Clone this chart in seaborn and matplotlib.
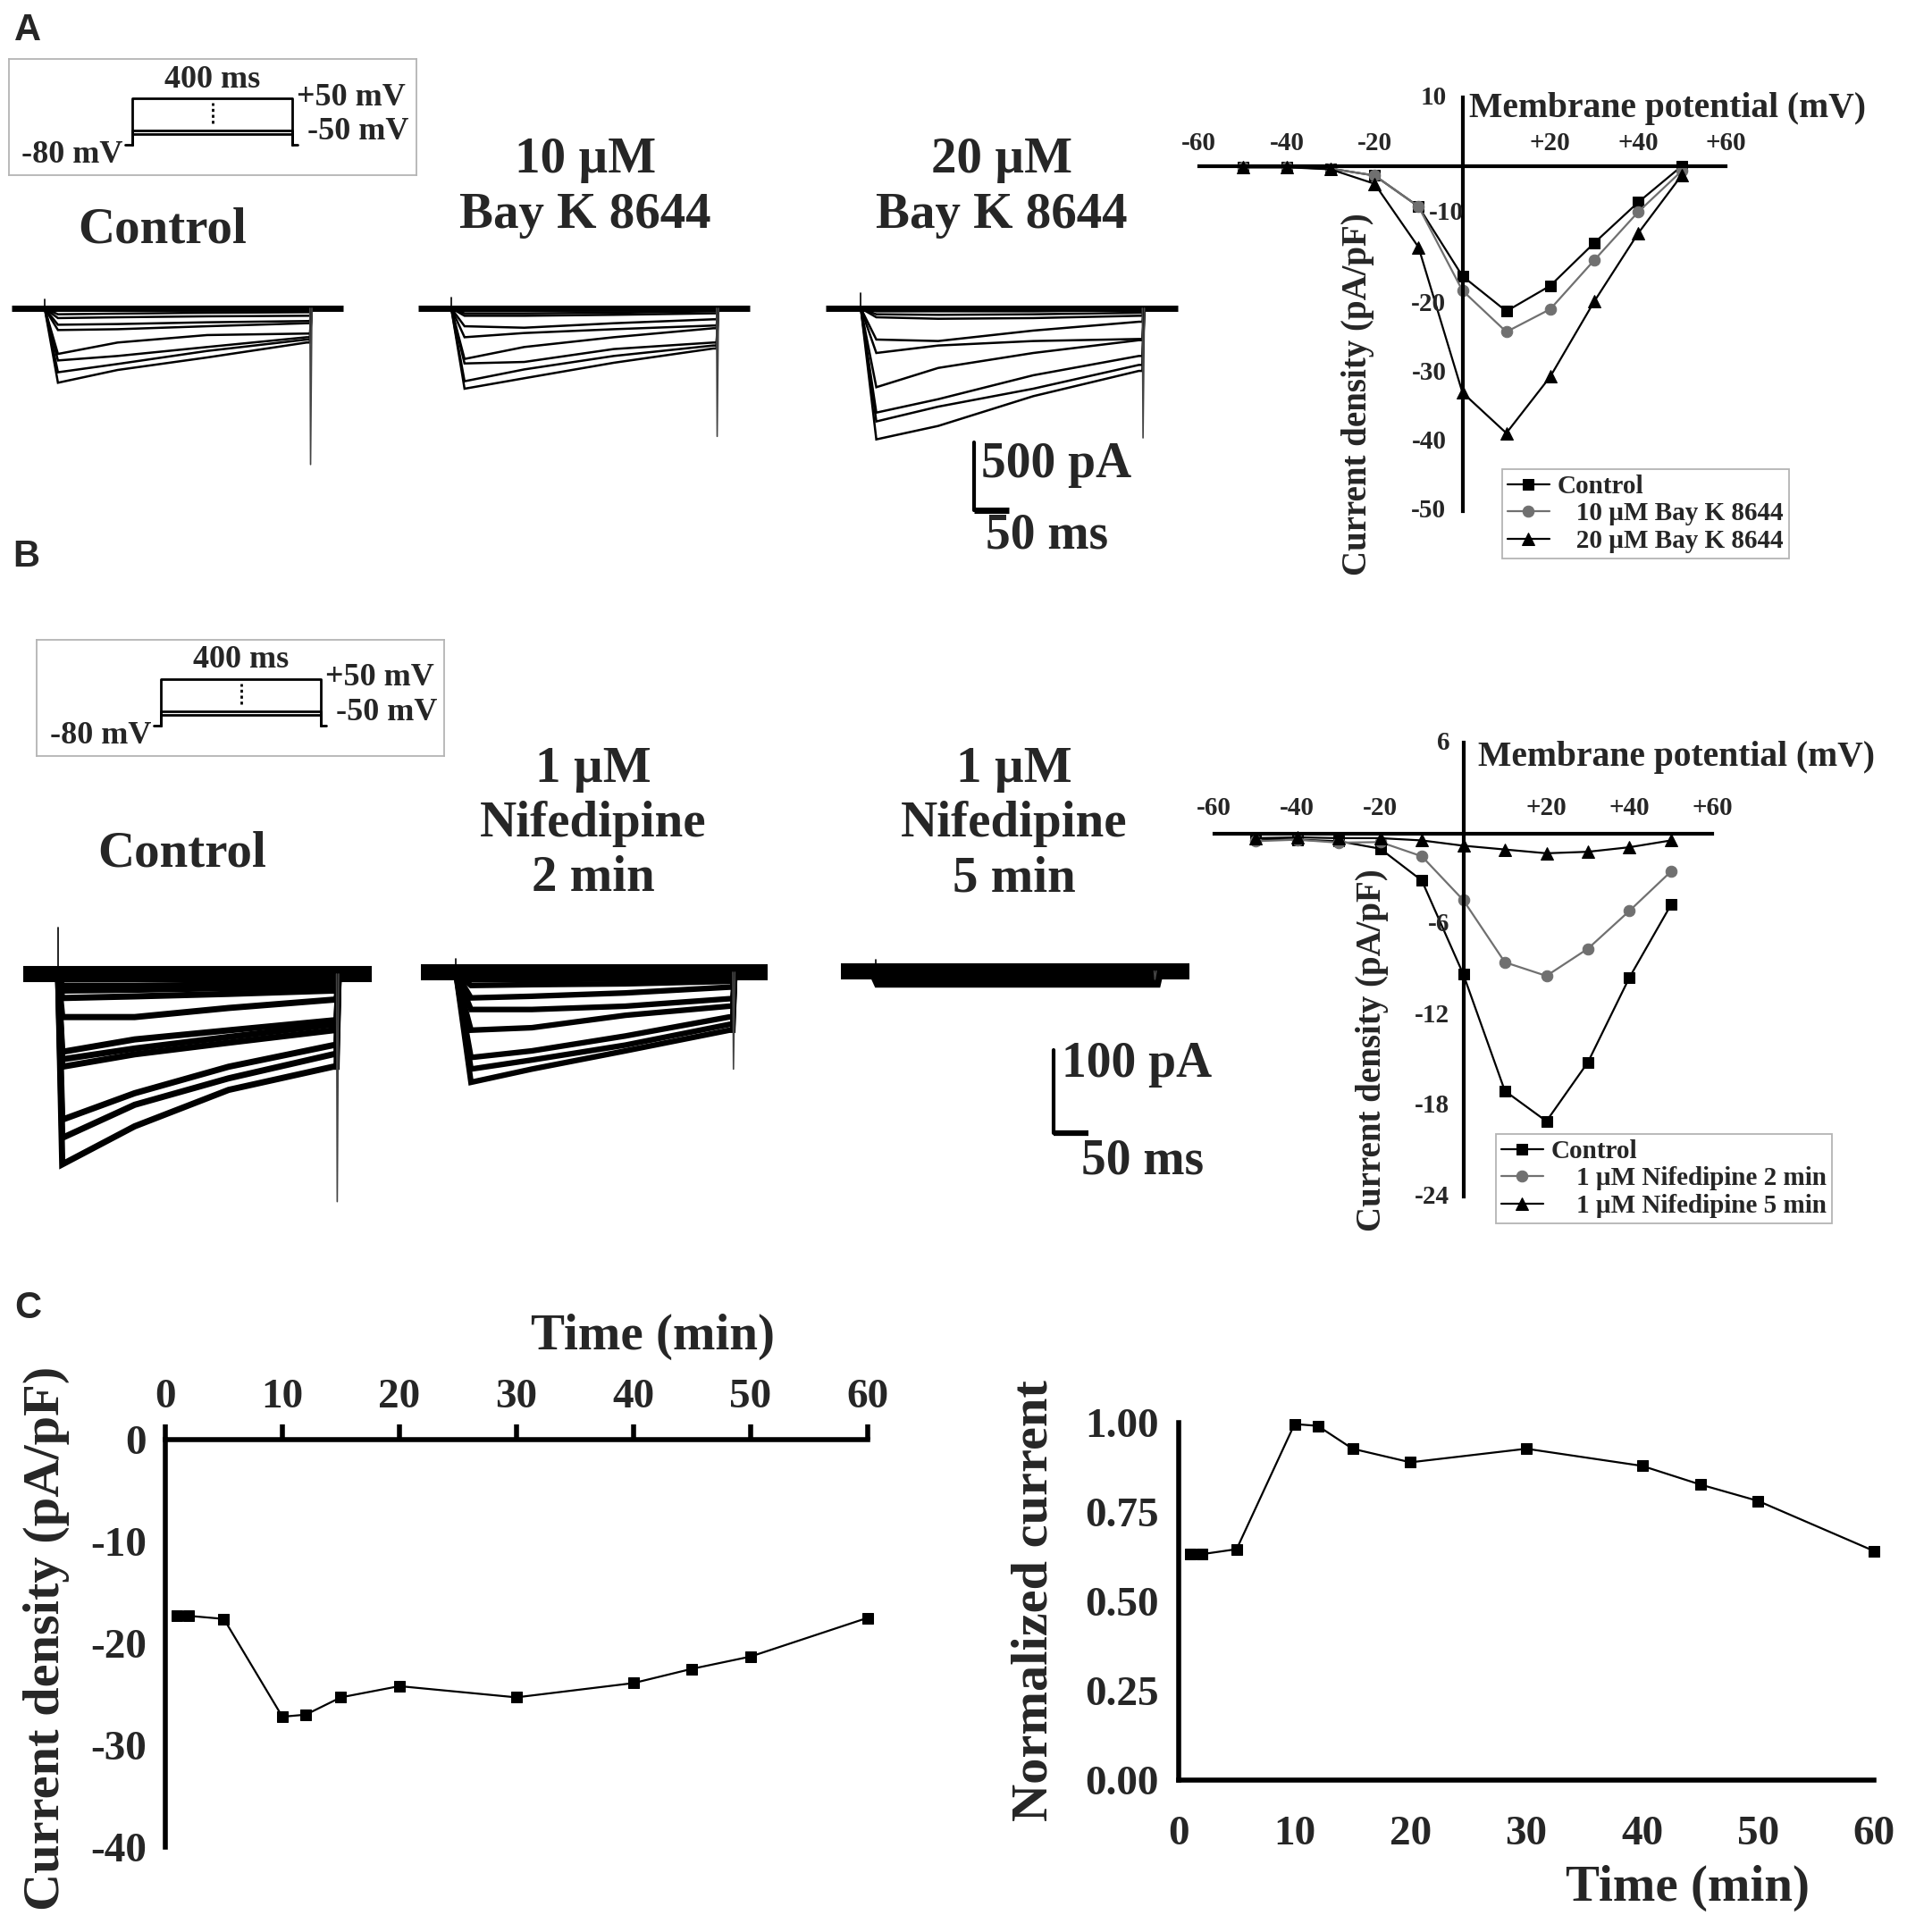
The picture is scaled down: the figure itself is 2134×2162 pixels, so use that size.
import numpy as np
import matplotlib
matplotlib.use('Agg')
import matplotlib.pyplot as plt
import seaborn as sns

sns.set_style('white')
plt.rcParams['font.family'] = ['Liberation Serif', 'DejaVu Serif']
plt.rcParams['font.weight'] = 'bold'
plt.rcParams['axes.unicode_minus'] = False

# ---- data ----
iv_voltage = [-50, -40, -30, -20, -10, 0, 10, 20, 30, 40, 50]
iv_a_control = [-0.1, -0.1, -0.3, -1.3, -5.8, -15.9, -21.0, -17.3, -11.1, -5.2, 0.1]
iv_a_bay10 = [-0.1, -0.1, -0.3, -1.3, -5.8, -18.0, -24.0, -20.7, -13.6, -6.6, -0.6]
iv_a_bay20 = [-0.1, -0.1, -0.4, -2.5, -11.7, -32.8, -38.7, -30.5, -19.6, -9.7, -1.2]
iv_b_control = [-0.34, -0.4, -0.5, -1.0, -3.1, -9.3, -17.0, -19.0, -15.1, -9.5, -4.7]
iv_b_nif2 = [-0.5, -0.4, -0.6, -0.56, -1.5, -4.4, -8.5, -9.4, -7.6, -5.1, -2.5]
iv_b_nif5 = [-0.3, -0.25, -0.3, -0.3, -0.45, -0.8, -1.05, -1.3, -1.2, -0.9, -0.45]
iv_xticks = [-60, -40, -20, 20, 40, 60]
iv_xticklabels = ['-60', '-40', '-20', '+20', '+40', '+60']
iv_a_yticks = [10, -10, -20, -30, -40, -50]
iv_b_yticks = [6, -6, -12, -18, -24]

time_min = [1, 2, 5, 10, 12, 15, 20, 30, 40, 45, 50, 60]
density_c = [-17.3, -17.3, -17.6, -27.2, -27.0, -25.3, -24.2, -25.3, -23.9, -22.5, -21.3, -17.5]
normalized_c = [0.632, 0.632, 0.646, 0.996, 0.991, 0.927, 0.889, 0.927, 0.879, 0.827, 0.781, 0.641]

# current traces (pA) at key times after pulse onset (ms)
trace_t_a = [20, 110, 245, 395]
trace_t_a20 = [22, 110, 245, 395]
trace_t_b = [6, 110, 245, 395]
trace_t_b2 = [22, 110, 245, 395]
sweeps_a_control = [[-15, -15, -11, -11], [-44, -39, -33, -29], [-72, -66, -59, -55],
                    [-121, -116, -103, -94], [-160, -154, -132, -110], [-336, -252, -197, -186],
                    [-384, -351, -285, -213], [-471, -410, -314, -230], [-548, -454, -362, -252]]
sweeps_a_bay10 = [[-15, -15, -11, -11], [-37, -37, -33, -22], [-55, -55, -48, -37],
                  [-132, -143, -110, -81], [-213, -182, -154, -127], [-373, -285, -213, -147],
                  [-406, -395, -300, -252], [-537, -450, -351, -274], [-592, -515, -401, -296]]
sweeps_a_bay20 = [[-22, -22, -22, -15], [-44, -48, -44, -33], [-66, -77, -72, -55],
                  [-230, -241, -164, -99], [-329, -274, -241, -226], [-581, -439, -329, -235],
                  [-768, -669, -493, -351], [-833, -724, -592, -417], [-965, -866, -647, -461]]
sweeps_b_control = [[-14, -14, -13, -12], [-20, -19, -17, -15], [-29, -27, -24, -20],
                    [-52, -52, -41, -31], [-94, -79, -68, -56], [-103, -90, -76, -61],
                    [-112, -97, -83, -68], [-176, -144, -112, -86], [-198, -158, -126, -97],
                    [-230, -184, -140, -112]]
sweeps_b_nif2 = [[-9, -9, -8, -7], [-16, -15, -14, -11], [-31, -29, -25, -18],
                 [-45, -45, -41, -32], [-70, -67, -52, -41], [-103, -95, -77, -54],
                 [-117, -106, -88, -63], [-133, -117, -95, -70]]
sweeps_b_nif5 = [[-3, -3, -3, -3], [-7, -7, -7, -7], [-11, -11, -11, -11]]
tail_pa = {'a_control': -1150, 'a_bay10': -943, 'a_bay20': -954,
           'b_control': -275, 'b_nif2': -117, 'b_nif5': -10}
onset_pa = {'a_control': 66, 'a_bay10': 81, 'a_bay20': 110,
            'b_control': 56, 'b_nif2': 16, 'b_nif5': 14}

protocol_hold = -80
protocol_steps = [-50, -40, 50]
protocol_ms = 400
scale_a = (50, 500)   # ms, pA
scale_b = (50, 100)

# ---- layout helpers (pixel coordinates of the 2134 x 2162 image) ----
W, H = 2134, 2162
fig = plt.figure(figsize=(W / 100, H / 100), dpi=100)
fig.patch.set_facecolor('white')


def px_axes(x0, y0, x1, y1):
    ax = fig.add_axes([x0 / W, 1 - y1 / H, (x1 - x0) / W, (y1 - y0) / H])
    ax.set_facecolor('none')
    return ax


def ftext(x, y, s, size, ha='center', va='baseline', **kw):
    return fig.text(x / W, 1 - y / H, s, fontsize=size, ha=ha, va=va, fontweight='bold', **kw)


def protocol(box, t0_px, v0_px):
    x0, y0, x1, y1 = box
    pxms, pxmv = 0.4475, 0.4
    ax = px_axes(*box)
    ax.set_xlim((x0 - t0_px) / pxms, (x1 - t0_px) / pxms)
    ax.set_ylim(protocol_hold - (y1 - v0_px) / pxmv, protocol_hold + (v0_px - y0) / pxmv)
    ax.set_xticks([])
    ax.set_yticks([])
    for sp in ax.spines.values():
        sp.set_color('#b4b4b4')
        sp.set_linewidth(1.3)
    ax.plot([-18, 0], [protocol_hold] * 2, color='k', lw=2)
    ax.plot([protocol_ms, protocol_ms + 14], [protocol_hold] * 2, color='k', lw=2)
    for v in protocol_steps:
        ax.plot([0, 0, protocol_ms, protocol_ms], [protocol_hold, v, v, protocol_hold], color='k', lw=2)
    ax.plot([200, 200], [-20, 37], color='k', lw=2, ls=(0, (1.2, 1.2)))
    ax.text(200, 102, '400 ms', ha='center', va='center', fontsize=26)
    ax.text(411, 52, '+50 mV', ha='left', va='center', fontsize=26)
    ax.text(437, -44, '-50 mV', ha='left', va='center', fontsize=26)
    ax.text(-24, -110, '-80 mV', ha='right', va='center', fontsize=26)


def trace_panel(box, start_px, base_px, pxms, pxpa, t_keys, sweeps, key, base_lw, sweep_lw):
    x0, y0, x1, y1 = box
    ax = px_axes(*box)
    ax.set_xlim((x0 - start_px) / pxms, (x1 - start_px) / pxms)
    ax.set_ylim(-(y1 - base_px) / pxpa, (base_px - y0) / pxpa)
    ax.axis('off')
    ax.plot([-50, 450], [0, 0], color='k', lw=base_lw, solid_capstyle='butt')
    for s in sweeps:
        ax.plot([0] + t_keys + [400, 403], [0] + s + [s[-1], 0], color='k', lw=sweep_lw,
                solid_capstyle='butt', solid_joinstyle='miter')
    ax.plot([0, 0], [0, onset_pa[key]], color='k', lw=1.2)
    ax.plot([400, 401, 403], [0, tail_pa[key], 0], color='#444444', lw=1.2)
    return ax


# ---- panel A: protocol + traces ----
protocol((10, 66, 466, 196), 148, 162)
trace_panel((0, 290, 430, 630), 50, 345, 0.742, 0.152, trace_t_a, sweeps_a_control, 'a_control', 5, 1.8)
trace_panel((440, 290, 880, 630), 505, 345, 0.742, 0.152, trace_t_a, sweeps_a_bay10, 'a_bay10', 5, 1.8)
ax_a20 = trace_panel((890, 290, 1330, 630), 963.3, 345, 0.7875, 0.152, trace_t_a20, sweeps_a_bay20,
                     'a_bay20', 5, 1.8)
sb_t = (1090 - 963.3) / 0.7875
sb_y = -(571 - 345) / 0.152
ax_a20.plot([sb_t, sb_t], [sb_y, sb_y + scale_a[1]], color='k', lw=3)
ax_a20.plot([sb_t, sb_t + scale_a[0]], [sb_y, sb_y], color='k', lw=5, solid_capstyle='butt')
ftext(1098, 534, '500 pA', 40, ha='left')
ftext(1103, 614, '50 ms', 40, ha='left')

ftext(182, 272, 'Control', 41)
ftext(655, 193, '10 µM', 41)
ftext(655, 255, 'Bay K 8644', 41)
ftext(1121, 193, '20 µM', 41)
ftext(1121, 255, 'Bay K 8644', 41)

# ---- panel B: protocol + traces ----
protocol((41, 716, 497, 846), 180, 811.5)
trace_panel((0, 1020, 440, 1360), 65, 1090, 0.779, 0.926, trace_t_b, sweeps_b_control, 'b_control', 13, 5)
trace_panel((450, 1020, 890, 1360), 510, 1088, 0.775, 0.926, trace_t_b2, sweeps_b_nif2, 'b_nif2', 13, 4.5)
ax_b5 = trace_panel((900, 1020, 1380, 1330), 980, 1086.7, 0.779, 0.926, trace_t_b, sweeps_b_nif5,
                    'b_nif5', 13, 12)
sb_t = (1179 - 980) / 0.779
sb_y = -(1268 - 1086.7) / 0.926
ax_b5.plot([sb_t, sb_t], [sb_y, sb_y + scale_b[1]], color='k', lw=3)
ax_b5.plot([sb_t, sb_t + scale_b[0]], [sb_y, sb_y], color='k', lw=4.5, solid_capstyle='butt')
ftext(1188, 1205, '100 pA', 40, ha='left')
ftext(1210, 1314, '50 ms', 40, ha='left')

ftext(204, 969, 'Control', 41)
ftext(664, 875, '1 µM', 41)
ftext(664, 936, 'Nifedipine', 41)
ftext(664, 997, '2 min', 41)
ftext(1135, 875, '1 µM', 41)
ftext(1135, 936, 'Nifedipine', 41)
ftext(1135, 997, '5 min', 41)


# ---- I-V plots ----
def iv_panel(box, ylim, yticks, series, leg_xy, xlab_off, ylab_off, odd_label=None):
    ax = px_axes(*box)
    for vals, color, marker, ms, label in series:
        sns.lineplot(x=iv_voltage, y=vals, ax=ax, color=color, marker=marker, markersize=ms,
                     markeredgecolor=color, markerfacecolor=color, lw=1.6, label=label, clip_on=False)
    ax.set_xlim(-60, 60)
    ax.set_ylim(*ylim)
    for side in ['top', 'right']:
        ax.spines[side].set_visible(False)
    for side in ['left', 'bottom']:
        ax.spines[side].set_position(('data', 0))
        ax.spines[side].set_linewidth(3)
        ax.spines[side].set_color('k')
    ax.set_xticks(iv_xticks)
    ax.set_yticks(yticks)
    ax.tick_params(axis='x', direction='in', length=9, width=3, labelbottom=False, color='k')
    ax.tick_params(axis='y', direction='out', length=10, width=3, labelleft=False, color='k')
    ax.set_xlabel('')
    ax.set_ylabel('')
    for x, lab in zip(iv_xticks, iv_xticklabels):
        ax.annotate(lab, (x, 0), xytext=(0, xlab_off), textcoords='offset points',
                    ha='center', va='bottom', fontsize=21, fontweight='bold')
    for y in yticks:
        off = (-ylab_off, 0)
        if odd_label is not None and y == odd_label[0]:
            off = odd_label[1]
        ax.annotate(str(y), (0, y), xytext=off, textcoords='offset points',
                    ha='right', va='center', fontsize=21, fontweight='bold')
    leg = ax.legend(loc='upper left', bbox_to_anchor=(leg_xy[0] / W, 1 - leg_xy[1] / H),
                    bbox_transform=fig.transFigure, frameon=True, fancybox=False, framealpha=1,
                    edgecolor='#b4b4b4', borderpad=0.2, labelspacing=0.12, handlelength=1.6,
                    handletextpad=0.3, borderaxespad=0, prop={'size': 21, 'weight': 'bold'})
    leg.get_frame().set_linewidth(1.3)
    return ax


gray = '#707070'
iv_panel((1341.6, 109.3, 1931.4, 571.8), (-50, 10), iv_a_yticks,
         [(iv_a_control, 'k', 's', 8.5, 'Control'),
          (iv_a_bay10, gray, 'o', 9, '   10 µM Bay K 8644'),
          (iv_a_bay20, 'k', '^', 9.5, '   20 µM Bay K 8644')],
         (1681, 525), 9, 13, odd_label=(-10, (1, 18)))
ftext(1644, 122, 'Membrane potential (mV)', 28.5, ha='left', va='center')
ftext(1519, 441, 'Current density (pA/pF)', 28, va='center', rotation=90)

iv_panel((1358.7, 831.2, 1916.4, 1339.4), (-24, 6), iv_b_yticks,
         [(iv_b_control, 'k', 's', 8.5, 'Control'),
          (iv_b_nif2, gray, 'o', 9, '    1 µM Nifedipine 2 min'),
          (iv_b_nif5, 'k', '^', 9.5, '    1 µM Nifedipine 5 min')],
         (1674, 1269), 11, 11)
ftext(1654, 848, 'Membrane potential (mV)', 28.5, ha='left', va='center')
ftext(1535, 1175, 'Current density (pA/pF)', 28, va='center', rotation=90)

# ---- panel C ----
axc1 = px_axes(185, 1611, 970.7, 2067)
sns.lineplot(x=time_min, y=density_c, ax=axc1, color='k', marker='s', markersize=8,
             markeredgecolor='k', lw=1.6, clip_on=False)
axc1.set_xlim(0, 60)
axc1.set_ylim(-40, 0)
axc1.xaxis.tick_top()
axc1.set_xticks(range(0, 61, 10))
axc1.set_yticks([0, -10, -20, -30, -40])
axc1.spines['bottom'].set_visible(False)
axc1.spines['right'].set_visible(False)
for side in ['top', 'left']:
    axc1.spines[side].set_linewidth(4)
    axc1.spines[side].set_color('k')
axc1.tick_params(axis='x', direction='out', length=12, width=4, pad=7, labelsize=34, color='k')
axc1.tick_params(axis='y', direction='out', length=14, width=4, pad=1, labelsize=34, color='k')
axc1.set_xlabel('')
axc1.set_ylabel('')
ftext(730, 1496, 'Time (min)', 41, va='center')
ftext(52, 1833, 'Current density (pA/pF)', 42, va='center', rotation=90)

axc2 = px_axes(1319, 1592, 2097, 1992)
sns.lineplot(x=time_min, y=normalized_c, ax=axc2, color='k', marker='s', markersize=8,
             markeredgecolor='k', lw=1.6, clip_on=False)
axc2.set_xlim(0, 60)
axc2.set_ylim(0, 1)
axc2.set_xticks(range(0, 61, 10))
axc2.set_yticks([0, 0.25, 0.5, 0.75, 1.0])
axc2.set_yticklabels(['0.00', '0.25', '0.50', '0.75', '1.00'])
axc2.spines['top'].set_visible(False)
axc2.spines['right'].set_visible(False)
for side in ['bottom', 'left']:
    axc2.spines[side].set_linewidth(4)
    axc2.spines[side].set_color('k')
axc2.tick_params(axis='x', direction='out', length=12, width=4, pad=17, labelsize=34, color='k')
axc2.tick_params(axis='y', direction='out', length=15, width=4, pad=1, labelsize=34, color='k')
axc2.set_xlabel('')
axc2.set_ylabel('')
ftext(1888, 2113, 'Time (min)', 41, va='center')
ftext(1157, 1791, 'Normalized current', 42, va='center', rotation=90)

# panel letters
for letter, (x, y) in {'A': (16, 14), 'B': (14, 603), 'C': (16, 1444)}.items():
    fig.text(x / W, 1 - y / H, letter, fontsize=30, fontweight='bold', ha='left', va='top',
             family=['Liberation Sans', 'DejaVu Sans'])

fig.savefig('out.png', dpi=100)
